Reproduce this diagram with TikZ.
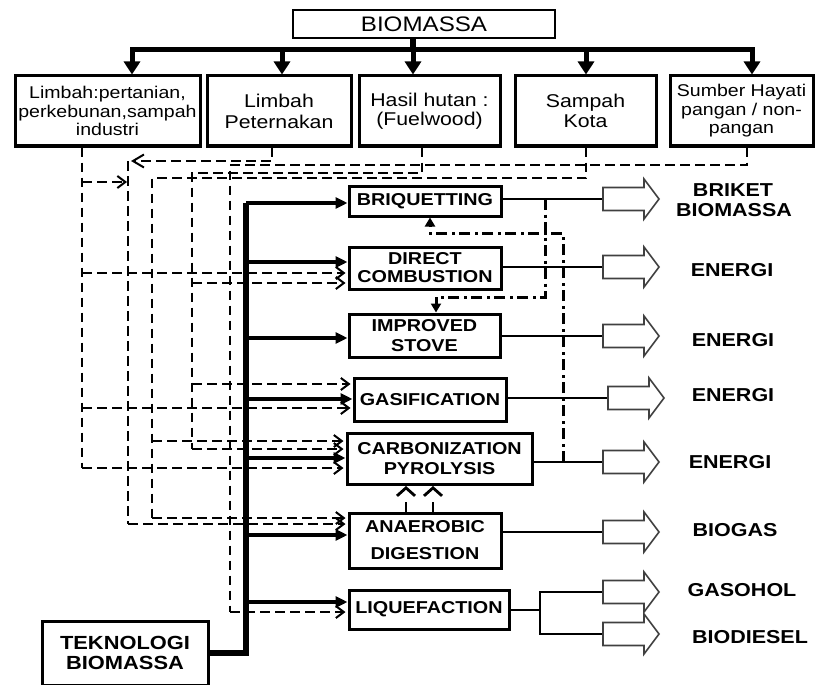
\documentclass[tikz,border=0pt]{standalone}
\usepackage{fontspec}
\setmainfont{Liberation Sans}[FakeStretch=1.15]
\usetikzlibrary{arrows.meta}
\begin{document}
\begin{tikzpicture}[x=1pt,y=-1pt,
  sbox/.style={draw, line width=3pt, inner sep=0pt, align=center},
  pbox/.style={draw, line width=3pt, inner sep=0pt, align=center},
  olbl/.style={inner sep=0pt, font=\fontsize{18.7}{20}\bfseries\selectfont},
  topar/.style={line width=5pt, -{Triangle[length=13pt,width=16pt]}},
  barar/.style={line width=3.2pt, -{Triangle[length=12pt,width=11pt]}},
  dsh/.style={line width=2pt, dash pattern=on 9.5pt off 5.5pt},
  dsha/.style={dsh, shorten >=2pt, -{Straight Barb[length=8pt,width=12pt]}},
  dshl/.style={dsh, -{Straight Barb[length=11pt,width=13pt]}},
  dd/.style={line width=3pt, dash pattern=on 11pt off 4.5pt on 3pt off 4.5pt, -{Triangle[length=9pt,width=10pt]}},
  dup/.style={line width=2.8pt, dash pattern=on 10pt off 40pt, -{Straight Barb[length=8pt,width=18pt]}},
  outl/.style={line width=2pt},
  hollow/.pic={\draw[line width=1.6pt, black!75, line join=miter]
     (0,-11.5) -- (41,-11.5) -- (41,-20) -- (56,0) -- (41,20) -- (41,11.5) -- (0,11.5) -- cycle;}
]
\useasboundingbox (0,0) rectangle (815,685);
\clip (0,0) rectangle (815,685);

% ---------- top ----------
\node[draw, line width=1.8pt, inner sep=0pt, minimum width=262pt, minimum height=28pt,
      font=\fontsize{21}{22}\selectfont] (bio) at (424,24) {BIOMASSA};

\node[sbox, minimum width=185pt, minimum height=70pt, font=\fontsize{17}{18.5}\selectfont]
  (s1) at (107.5,111) {Limbah:pertanian,\\perkebunan,sampah\\industri};
\node[sbox, minimum width=144pt, minimum height=70pt, font=\fontsize{18.5}{21}\selectfont]
  (s2) at (279,111) {Limbah\\Peternakan};
\node[sbox, minimum width=141pt, minimum height=70pt, font=\fontsize{18.5}{19.5}\selectfont]
  (s3) at (429.5,111) {Hasil hutan :\\(Fuelwood)};
\node[sbox, minimum width=141pt, minimum height=70pt, font=\fontsize{18.5}{20}\selectfont]
  (s4) at (585.5,111) {Sampah\\Kota};
\node[sbox, minimum width=143pt, minimum height=70pt, font=\fontsize{17}{18.5}\selectfont]
  (s5) at (741.5,111) {Sumber Hayati\\pangan / non-\\pangan};

\coordinate (bus1) at (132,50);
\coordinate (bus2) at (282,50);
\coordinate (bus3) at (413,50);
\coordinate (bus4) at (586,50);
\coordinate (bus5) at (752,50);
\draw[line width=6pt] (bio.south -| bus3) -- (bus3);
\draw[line width=5pt, line cap=rect] (bus1) -- (bus5);
\draw[topar] (bus1) -- (bus1 |- s1.north);
\draw[topar] (bus2) -- (bus2 |- s2.north);
\draw[topar] (bus3) -- (bus3 |- s3.north);
\draw[topar] (bus4) -- (bus4 |- s4.north);
\draw[topar] (bus5) -- (bus5 |- s5.north);

% ---------- process boxes ----------
\node[pbox, minimum width=152pt, minimum height=30pt, font=\fontsize{17.2}{18}\bfseries\selectfont]
  (p1) at (425,201) {BRIQUETTING};
\node[pbox, minimum width=152pt, minimum height=42pt, font=\fontsize{17.2}{18}\bfseries\selectfont]
  (p2) at (425,268) {DIRECT\\COMBUSTION};
\node[pbox, minimum width=151pt, minimum height=43pt, font=\fontsize{17.2}{20}\bfseries\selectfont]
  (p3) at (424.5,335.5) {IMPROVED\\STOVE};
\node[pbox, minimum width=152pt, minimum height=43pt, font=\fontsize{17.2}{18}\bfseries\selectfont]
  (p4) at (430,399.5) {GASIFICATION};
\node[pbox, minimum width=185pt, minimum height=51pt, font=\fontsize{17.2}{20}\bfseries\selectfont]
  (p5) at (439.5,458.5) {CARBONIZATION\\PYROLYSIS};
\node[pbox, minimum width=152pt, minimum height=55pt, font=\fontsize{17.2}{27}\bfseries\selectfont]
  (p6) at (425,540.5) {ANAEROBIC\\DIGESTION};
\node[pbox, minimum width=160pt, minimum height=39pt, font=\fontsize{17.2}{18}\bfseries\selectfont]
  (p7) at (429,609.5) {LIQUEFACTION};

\node[pbox, minimum width=166pt, minimum height=64pt, font=\fontsize{19}{20}\bfseries\selectfont]
  (tek) at (125,653) {TEKNOLOGI\\BIOMASSA};

% ---------- thick bar ----------
\coordinate (bt) at (246,203);
\draw[line width=6pt, line join=miter] (tek.east) -| (bt);
\draw[barar] (246,203) -- (p1.west |- 246,203);
\draw[barar] (246,262) -- (p2.west |- 246,262);
\draw[barar] (246,338) -- (p3.west |- 246,338);
\draw[barar] (246,399) -- (p4.west |- 246,399);
\draw[barar] (246,458) -- (p5.west |- 246,458);
\draw[barar] (246,535) -- (p6.west |- 246,535);
\draw[barar] (246,602) -- (p7.west |- 246,602);

% ---------- dashed feed lines ----------
% Limbah pertanian
\draw[dsh] (s1.south -| 82,0) -- (82,468);
\draw[dsha] (82,468) -- (p5.west |- 82,468);
\draw[dsha] (82,273) -- (p2.west |- 82,273);
\draw[dsha] (82,408) -- (p4.west |- 82,408);
\draw[dsh, -{Straight Barb[length=8pt,width=12pt]}] (82,182) -- (127,182);
% Limbah peternakan
\draw[dshl] (s2.south -| 272,0) |- (131,161);
\draw[dsh] (128,161) -- (128,524);
\draw[dsha] (128,524) -- (p6.west |- 128,524);
% Hasil hutan
\draw[dsh] (s3.south -| 422,0) |- (192,173) -- (192,449);
\draw[dsha] (192,449) -- (p5.west |- 192,449);
\draw[dsha] (192,283) -- (p2.west |- 192,283);
\draw[dsha] (192,384) -- (p4.west |- 192,384);
% Sampah kota
\draw[dsh] (s4.south -| 586,0) |- (152,178) -- (152,518);
\draw[dsha] (152,518) -- (p6.west |- 152,518);
\draw[dsha] (152,441) -- (p5.west |- 152,441);
% Sumber hayati
\draw[dsh] (s5.south -| 747,0) |- (230,165) -- (230,612);
\draw[dsha] (230,612) -- (p7.west |- 230,612);

% ---------- outputs ----------
\coordinate (h1) at (603,199);
\coordinate (h2) at (603,267);
\coordinate (h3) at (603,336);
\coordinate (h4) at (608,398);
\coordinate (h5) at (603,462);
\coordinate (h6) at (603,532);
\coordinate (h7) at (603,592);
\coordinate (h8) at (603,634);
\coordinate (fk) at (540,609.5);

\draw[outl] (p1.east |- h1) -- (h1);
\draw[outl] (p2.east |- h2) -- (h2);
\draw[outl] (p3.east |- h3) -- (h3);
\draw[outl] (p4.east |- h4) -- (h4);
\draw[outl] (p5.east |- h5) -- (h5);
\draw[outl] (p6.east |- h6) -- (h6);
\draw[outl] (p7.east) -- (fk);
\draw[outl, line width=2.6pt] (h7) -| (fk) |- (h8);

\foreach \h in {h1,h2,h3,h4,h5,h6,h7,h8} { \pic at (\h) {hollow}; }

\node[olbl] (o1a) at (733,190) {BRIKET};
\node[olbl] (o1b) at (734,210.5) {BIOMASSA};
\node[olbl] (o2) at (732,270) {ENERGI};
\node[olbl] (o3) at (733,340) {ENERGI};
\node[olbl] (o4) at (733,395) {ENERGI};
\node[olbl] (o5) at (730,462) {ENERGI};
\node[olbl] (o6) at (735,530) {BIOGAS};
\node[olbl] (o7) at (742,590) {GASOHOL};
\node[olbl] (o8) at (750,637) {BIODIESEL};

% ---------- dash-dot recycling ----------
\coordinate (j1) at (545,199);
\coordinate (j2) at (563,462);
\draw[dd] (j1) |- (436,297) -- (p3.north -| 436,0);
\draw[dd] (j2) |- (430,233) -- (p1.south -| 430,0);

% ---------- anaerobic to carbonization ----------
\draw[dup] (p6.north -| 406,0) -- (406,486);
\draw[dup] (p6.north -| 433,0) -- (433,486);
\end{tikzpicture}
\end{document}
